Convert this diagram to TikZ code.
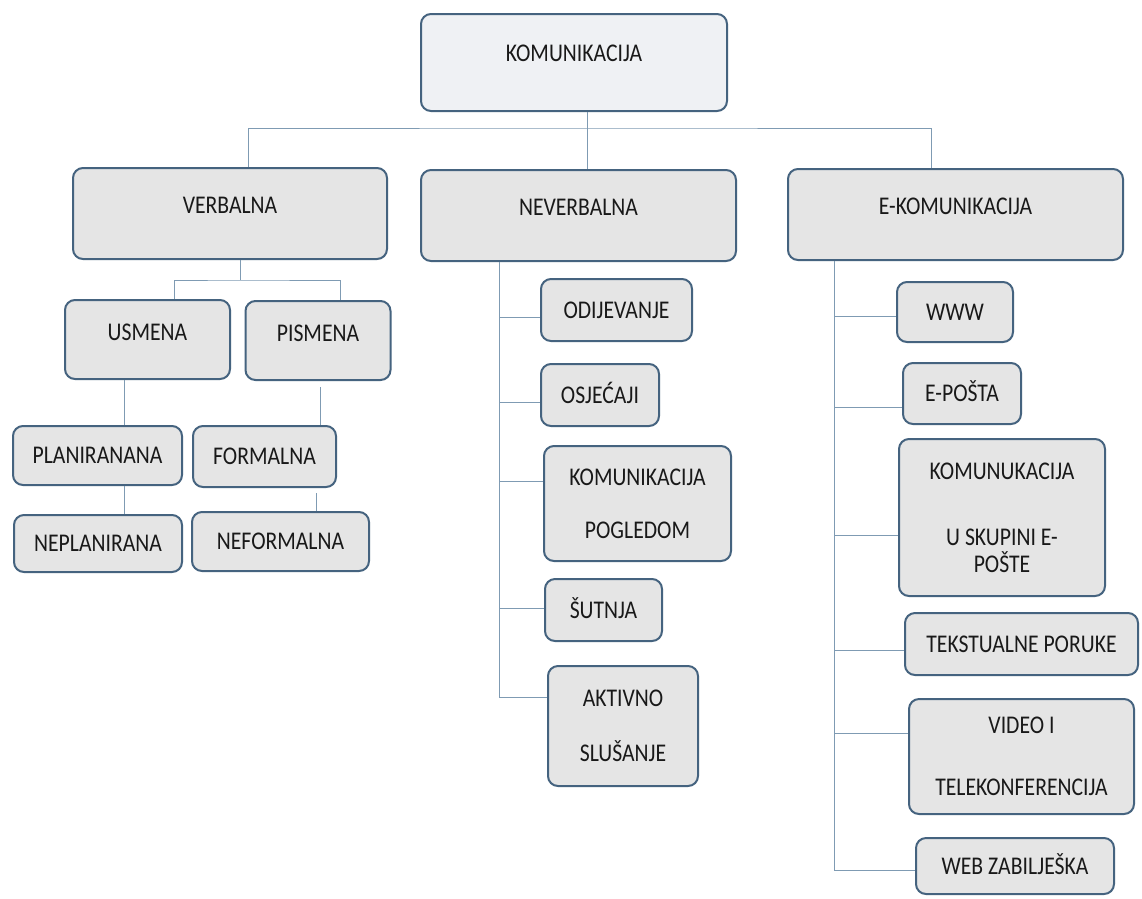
\documentclass[tikz,border=0pt]{standalone}
\usepackage{fontspec}
\setmainfont{Carlito}[FakeStretch=0.85]
\usepackage{xcolor}
\usetikzlibrary{shapes,arrows,positioning,calc}
\definecolor{boxline}{HTML}{45637F}
\definecolor{boxfill}{HTML}{E5E5E5}
\definecolor{topfill}{HTML}{EFF1F4}
\definecolor{linkline}{HTML}{7F9BB3}

\begin{document}
\begin{tikzpicture}[x=1pt, y=-1pt,
    box/.style={rectangle, rounded corners=10pt, draw=boxline, line width=2pt, fill=boxfill,
        inner sep=0pt, align=center, font=\fontsize{25.5}{27}\selectfont, text=black!90},
    one/.style={box, text height=18pt, text depth=1.6pt},
    link/.style={draw=linkline, line width=1pt}]
    \useasboundingbox (0,0) rectangle (1142,898);
    \fill[white] (0,0) rectangle (1142,898);

    \node[one, fill=topfill, minimum width=306pt, minimum height=97pt, text depth=20.6pt] (kom) at (574,62.5) {KOMUNIKACIJA};

    \node[one, minimum width=314pt, minimum height=91pt, text depth=18.6pt] (verb) at (230,213.5) {VERBALNA};
    \node[one, minimum width=315pt, minimum height=91pt, text depth=18.6pt] (never) at (578.5,215.5) {NEVERBALNA};
    \node[one, minimum width=335pt, minimum height=91pt, text depth=18.6pt] (ekom) at (955.5,214.5) {E-KOMUNIKACIJA};

    \node[one, minimum width=165pt, minimum height=79pt, text depth=16.6pt] (usm) at (147.5,339.5) {USMENA};
    \node[one, minimum width=145pt, minimum height=79pt, text depth=16.6pt] (pism) at (318,340.5) {PISMENA};
    \node[one, minimum width=169pt, minimum height=59pt] (plan) at (97.5,455.5) {PLANIRANANA};
    \node[one, minimum width=168pt, minimum height=57pt] (neplan) at (98,543.5) {NEPLANIRANA};
    \node[one, minimum width=143pt, minimum height=61pt] (form) at (264.5,456.5) {FORMALNA};
    \node[one, minimum width=177pt, minimum height=59pt] (neform) at (280.5,541.5) {NEFORMALNA};

    \node[one, minimum width=151pt, minimum height=62pt] (odij) at (616.5,310) {ODIJEVANJE};
    \node[one, minimum width=118pt, minimum height=62pt] (osje) at (600,395) {OSJEĆAJI};
    \node[box, minimum width=187pt, minimum height=115pt] (pogl) at (637.5,503.5) {KOMUNIKACIJA\\[26pt]POGLEDOM};
    \node[one, minimum width=117pt, minimum height=62pt] (sutn) at (603.5,610) {ŠUTNJA};
    \node[box, minimum width=150pt, minimum height=120pt] (akt) at (623,726) {AKTIVNO\\[28pt]SLUŠANJE};

    \node[one, minimum width=116pt, minimum height=60pt] (www) at (955,312) {WWW};
    \node[one, minimum width=118pt, minimum height=61pt] (epos) at (962,393.5) {E-POŠTA};
    \node[box, minimum width=206pt, minimum height=157pt] (skup) at (1002,517.5) {KOMUNUKACIJA\\[39pt]U SKUPINI E-\\POŠTE};
    \node[one, minimum width=233pt, minimum height=62pt] (teks) at (1021.5,644) {TEKSTUALNE PORUKE};
    \node[box, minimum width=225pt, minimum height=115pt] (video) at (1021.5,756.5) {VIDEO I\\[35pt]TELEKONFERENCIJA};
    \node[one, minimum width=198pt, minimum height=56pt] (web) at (1015,866) {WEB ZABILJEŠKA};

    \coordinate (bar) at (587,128);
    \coordinate (vbar) at (240,280);

    \draw[link] (kom.south -| bar) -- (never.north -| bar);
    \draw[link] (verb.north -| 248,0) |- (bar) -| (ekom.north -| 931,0);

    \draw[link] (verb.south -| vbar) -- (vbar);
    \draw[link] (usm.north -| 174,0) |- (vbar) -| (pism.north -| 340,0);
    \draw[link] (usm.south -| 124,0) -- (plan.north -| 124,0);
    \draw[link] (plan.south -| 124,0) -- (neplan.north -| 124,0);
    \draw[link] ($(pism.south -| 320,0)+(0,6)$) -- (form.north -| 320,0);
    \draw[link] ($(form.south -| 316,0)+(0,5)$) -- (neform.north -| 316,0);

    \draw[link] (never.south -| 499,0) |- (akt.west |- 0,697);
    \draw[link] (499,317) -- (odij.west |- 0,317);
    \draw[link] (499,402) -- (osje.west |- 0,402);
    \draw[link] (499,481) -- (pogl.west |- 0,481);
    \draw[link] (499,608) -- (sutn.west |- 0,608);

    \draw[link] (ekom.south -| 834,0) |- (web.west |- 0,870);
    \draw[link] (834,316) -- (www.west |- 0,316);
    \draw[link] (834,407) -- (epos.west |- 0,407);
    \draw[link] (834,535) -- (skup.west |- 0,535);
    \draw[link] (834,650) -- (teks.west |- 0,650);
    \draw[link] (834,733) -- (video.west |- 0,733);
\end{tikzpicture}
\end{document}
